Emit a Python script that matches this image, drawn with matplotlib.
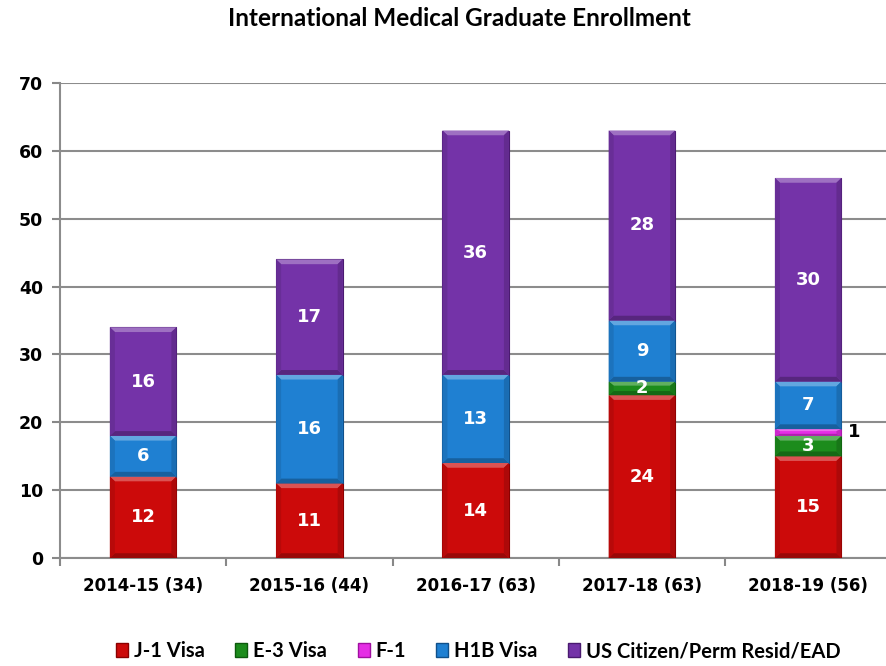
import numpy as np
import matplotlib
matplotlib.use('Agg')
import matplotlib.pyplot as plt
from matplotlib.patches import Patch, Polygon
from matplotlib.colors import to_rgb

categories = ['2014-15 (34)', '2015-16 (44)', '2016-17 (63)', '2017-18 (63)', '2018-19 (56)']
series_names = ['J-1 Visa', 'E-3 Visa', 'F-1', 'H1B Visa', 'US Citizen/Perm Resid/EAD']
j1 = [12, 11, 14, 24, 15]
e3 = [0, 0, 0, 2, 3]
f1 = [0, 0, 0, 0, 1]
h1b = [6, 16, 13, 9, 7]
us = [16, 17, 36, 28, 30]
yticks = [0, 10, 20, 30, 40, 50, 60, 70]

colors = ['#cc0a0a', '#1c8c1c', '#e52ee5', '#1f80d2', '#7433a8']
edges = ['#8a0000', '#0d5a0d', '#a010a0', '#10508a', '#4a1a70']


def shade(c, f):
    r = np.array(to_rgb(c))
    if f > 0:
        return tuple(r + (1 - r) * f)
    return tuple(r * (1 + f))


def bevel(ax, xc, w, b, h, c):
    # light top edge, darker sides and bottom, like the office chart bevel
    dx = 0.03
    dy = min(0.7, h * 0.3)
    l, r, t = xc - w / 2, xc + w / 2, b + h
    ax.add_patch(Polygon([(l, t), (r, t), (r - dx, t - dy), (l + dx, t - dy)],
                         closed=True, facecolor=shade(c, 0.3), edgecolor='none', zorder=3.5))
    ax.add_patch(Polygon([(l, b), (r, b), (r - dx, b + dy), (l + dx, b + dy)],
                         closed=True, facecolor=shade(c, -0.25), edgecolor='none', zorder=3.5))
    ax.add_patch(Polygon([(l, b), (l + dx, b + dy), (l + dx, t - dy), (l, t)],
                         closed=True, facecolor=shade(c, -0.1), edgecolor='none', zorder=3.5))
    ax.add_patch(Polygon([(r, b), (r - dx, b + dy), (r - dx, t - dy), (r, t)],
                         closed=True, facecolor=shade(c, -0.15), edgecolor='none', zorder=3.5))


fig = plt.figure(figsize=(8.86, 6.66), dpi=100)
ax = fig.add_axes([60 / 886, 108 / 666, 826 / 886, 475 / 666])

x = np.arange(len(categories))
bw = 0.4
bottom = np.zeros(len(categories))
for name, vals, c, ec in zip(series_names, [j1, e3, f1, h1b, us], colors, edges):
    vals = np.array(vals, dtype=float)
    ax.bar(x, vals, bw, bottom=bottom, color=c, edgecolor=ec, linewidth=0.8, zorder=3)
    for xi, v, b in zip(x, vals, bottom):
        if v == 0:
            continue
        bevel(ax, xi, bw, b, v, c)
        if v < 2:
            ax.text(xi + 0.24, b + v / 2, f'{int(v)}', ha='left', va='center',
                    fontsize=13, fontweight='bold', color='black', zorder=4)
        else:
            ax.text(xi, b + v / 2, f'{int(v)}', ha='center', va='center',
                    fontsize=13, fontweight='bold', color='white', zorder=4)
    bottom += vals

ax.set_xlim(-0.486, 4.468)
ax.set_ylim(0, 70)
ax.set_yticks(yticks)
ax.set_yticklabels([str(t) for t in yticks], fontsize=12.5, fontweight='bold')
ax.set_xticks(x)
ax.set_xticklabels(categories, fontsize=12, fontweight='bold')
ax.set_xticks(np.arange(len(categories)) - 0.5, minor=True)
ax.tick_params(axis='x', which='major', length=0, pad=14)
ax.tick_params(axis='x', which='minor', length=6, width=1.5, color='#888888')
ax.tick_params(axis='y', length=6, width=1.5, color='#888888', pad=6)
ax.yaxis.grid(True, color='#8c8c8c', linewidth=1.5, zorder=0)
for s in ['top', 'right']:
    ax.spines[s].set_visible(False)
for s in ['left', 'bottom']:
    ax.spines[s].set_color('#8c8c8c')
    ax.spines[s].set_linewidth(1.5)

fig.text(0.518, 1 - 18 / 666, 'International Medical Graduate Enrollment', ha='center', va='center',
         fontsize=17.5, fontweight='bold', family='Lato')

handles = [Patch(facecolor=c, edgecolor=ec) for c, ec in zip(colors, edges)]
fig.legend(handles, series_names, loc='center', bbox_to_anchor=(0.54, 1 - 651 / 666), ncol=5,
           frameon=False, prop={'family': 'Lato', 'size': 14.5, 'weight': 'bold'},
           handlelength=0.6, handleheight=0.7, handletextpad=0.3, columnspacing=1.5)

fig.savefig('out.png', dpi=100)
